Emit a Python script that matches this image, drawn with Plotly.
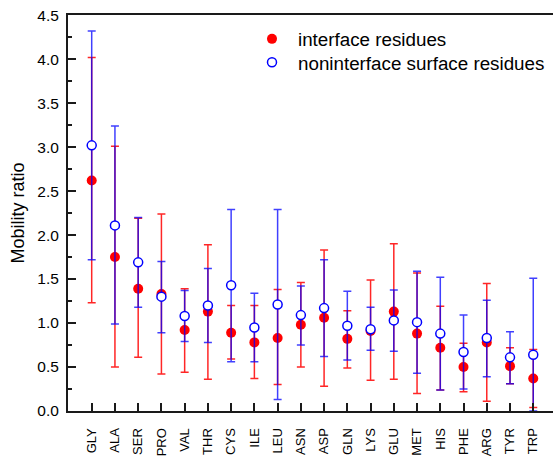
import plotly.graph_objects as go

residues = ["GLY", "ALA", "SER", "PRO", "VAL", "THR", "CYS", "ILE", "LEU", "ASN",
            "ASP", "GLN", "LYS", "GLU", "MET", "HIS", "PHE", "ARG", "TYR", "TRP"]

iface_mean = [2.62, 1.75, 1.39, 1.33, 0.92, 1.13, 0.89, 0.78, 0.83, 0.98,
              1.06, 0.82, 0.91, 1.13, 0.88, 0.72, 0.50, 0.78, 0.51, 0.37]
iface_low = [1.23, 0.50, 0.61, 0.42, 0.44, 0.36, 0.59, 0.37, 0.30, 0.50,
             0.28, 0.49, 0.35, 0.36, 0.20, 0.24, 0.22, 0.11, 0.31, 0.04]
iface_high = [4.02, 3.01, 2.19, 2.24, 1.39, 1.89, 1.20, 1.20, 1.38, 1.46,
              1.83, 1.14, 1.49, 1.90, 1.57, 1.19, 0.77, 1.45, 0.72, 0.70]

nonif_mean = [3.02, 2.11, 1.69, 1.30, 1.08, 1.20, 1.43, 0.95, 1.21, 1.09,
              1.17, 0.97, 0.93, 1.03, 1.01, 0.88, 0.67, 0.83, 0.61, 0.64]
nonif_low = [1.72, 0.99, 1.18, 0.89, 0.79, 0.78, 0.56, 0.56, 0.13, 0.75,
             0.62, 0.58, 0.69, 0.68, 0.43, 0.24, 0.25, 0.39, 0.31, 0.00]
nonif_high = [4.32, 3.24, 2.20, 1.70, 1.37, 1.62, 2.29, 1.34, 2.29, 1.42,
              1.72, 1.36, 1.18, 1.375, 1.59, 1.52, 1.09, 1.26, 0.90, 1.51]

y_ticks = [0, 0.5, 1, 1.5, 2, 2.5, 3, 3.5, 4, 4.5]
y_ticktext = ["0.0", "0.5", "1.0", "1.5", "2.0", "2.5", "3.0", "3.5", "4.0", "4.5"]

x = list(range(1, len(residues) + 1))

fig = go.Figure()
fig.add_trace(go.Scatter(
    x=x, y=iface_mean, mode="markers", name="interface residues", legend="legend",
    marker=dict(symbol="circle", size=10, color="#ff0000", line=dict(width=0)),
    error_y=dict(type="data", symmetric=False,
                 array=[h - m for h, m in zip(iface_high, iface_mean)],
                 arrayminus=[m - l for m, l in zip(iface_mean, iface_low)],
                 color="rgba(255,0,0,0.85)", thickness=1.5, width=4),
))
fig.add_trace(go.Scatter(
    x=x, y=nonif_mean, mode="markers", name="noninterface surface residues", legend="legend2",
    marker=dict(symbol="circle", size=9, color="white", line=dict(width=1.5, color="#0000ff")),
    error_y=dict(type="data", symmetric=False,
                 array=[h - m for h, m in zip(nonif_high, nonif_mean)],
                 arrayminus=[m - l for m, l in zip(nonif_mean, nonif_low)],
                 color="rgba(0,0,255,0.75)", thickness=1.5, width=4),
))

leg_common = dict(xanchor="left", yanchor="top", font=dict(size=18.8),
                  bgcolor="rgba(0,0,0,0)", itemwidth=42)

fig.update_layout(
    width=553, height=457,
    margin=dict(l=68, r=0, t=15, b=46, autoexpand=False),
    paper_bgcolor="white", plot_bgcolor="white",
    font=dict(family="Liberation Sans, Arial, sans-serif", color="black"),
    showlegend=True,
    legend=dict(x=0.367, y=0.987, **leg_common),
    legend2=dict(x=0.367, y=0.928, **leg_common),
    xaxis=dict(
        range=[-0.02, 20.85], tickmode="array", tickvals=x, ticktext=residues,
        tickangle=-90, ticks="inside", ticklen=8, tickwidth=2, tickcolor="#1a1a1a",
        showline=True, linecolor="#1a1a1a", linewidth=2, mirror=True,
        showgrid=False, zeroline=False,
        tickfont=dict(size=13), automargin=False, ticklabelstandoff=10,
    ),
    yaxis=dict(
        range=[0, 4.502], tickmode="array", tickvals=y_ticks, ticktext=y_ticktext,
        ticks="inside", ticklen=8, tickwidth=2, tickcolor="#1a1a1a",
        minor=dict(dtick=0.25, ticks="inside", ticklen=4, tickwidth=2, tickcolor="#1a1a1a"),
        showline=True, linecolor="#1a1a1a", linewidth=2, showgrid=False, zeroline=False,
        tickfont=dict(size=15.5), automargin=False, ticklabelstandoff=4,
        title=dict(text="Mobility ratio", font=dict(size=18), standoff=8),
    ),
)

fig.write_html(
    "out.html",
    config={"displayModeBar": False},
    post_script="document.body.style.margin='0';document.body.style.padding='0';",
)
